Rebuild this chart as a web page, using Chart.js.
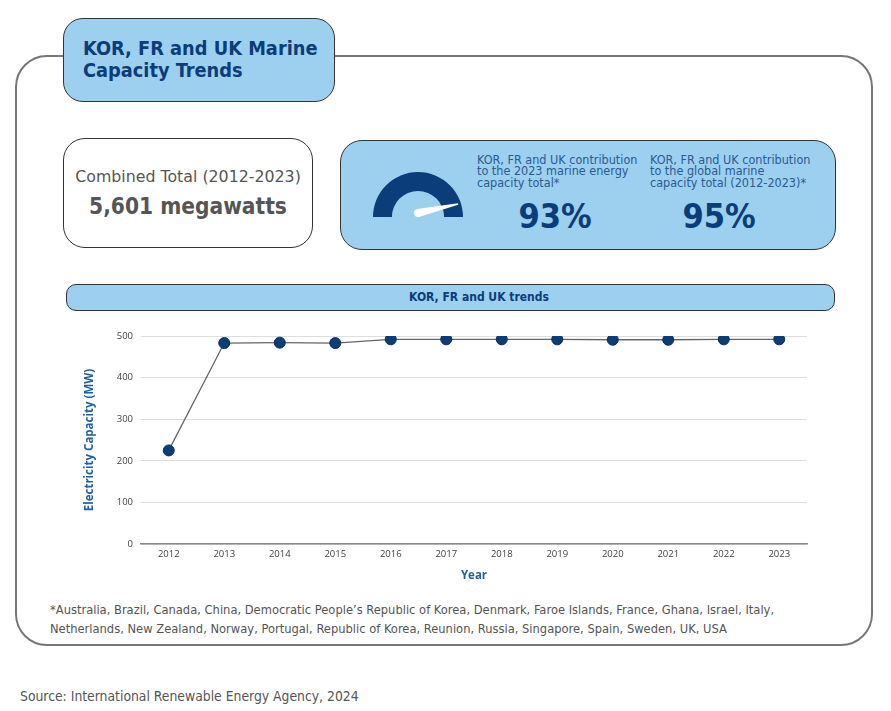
<!DOCTYPE html>
<html>
<head>
<meta charset="utf-8">
<script src="https://cdn.jsdelivr.net/npm/chart.js@4.4.1/dist/chart.umd.min.js"></script>
<style>
  html, body { margin: 0; padding: 0; background: #fff; }
  body { width: 891px; height: 711px; position: relative; overflow: hidden; font-family: "DejaVu Sans Condensed", "DejaVu Sans", sans-serif; }
  .abs { position: absolute; box-sizing: border-box; }
  #outer { left: 15px; top: 55px; width: 858px; height: 591px; border: 2px solid #777; border-radius: 32px; }
  #titleBox { left: 63px; top: 18px; width: 272px; height: 84px; background: #9dcfee; border: 1.5px solid #333; border-radius: 20px; }
  #titleText { left: 83px; top: 38px; font-weight: bold; font-size: 19.8px; line-height: 22px; color: #0b3d7a; white-space: nowrap; }
  #totalBox { left: 63px; top: 138px; width: 250px; height: 110px; background: #fff; border: 1.5px solid #333; border-radius: 22px; }
  #totalLbl { left: 63px; width: 250px; top: 167px; text-align: center; font-family: "DejaVu Sans", sans-serif; font-size: 15.8px; color: #555; white-space: nowrap; }
  #totalVal { left: 63px; width: 250px; top: 193px; text-align: center; font-family: "DejaVu Sans Condensed", "DejaVu Sans", sans-serif; font-size: 22.5px; font-weight: bold; color: #555; white-space: nowrap; }
  #kpiBox { left: 340px; top: 140px; width: 496px; height: 110px; background: #9dcfee; border: 1.5px solid #333; border-radius: 22px; }
  .kpiTxt { font-size: 12.5px; line-height: 11.3px; color: #2a5b92; white-space: nowrap; }
  .kpiNum { font-size: 34px; font-weight: bold; color: #0b3d7a; text-align: center; white-space: nowrap; }
  #banner { left: 66px; top: 284px; width: 769px; height: 27px; background: #9dcfee; border: 1.5px solid #333; border-radius: 10px; }
  #bannerTxt { left: 379px; width: 200px; top: 290px; text-align: center; font-size: 12px; font-weight: bold; color: #0b3d7a; white-space: nowrap; }
  #note { left: 50px; top: 600px; font-size: 12.8px; line-height: 19px; color: #555; white-space: nowrap; }
  #source { left: 20px; top: 688px; font-size: 13.8px; color: #555; white-space: nowrap; }
  #chartWrap { left: 70px; top: 322px; width: 750px; height: 270px; }
  #gaugeWrap { left: 372.5px; top: 172px; width: 90px; height: 45px; }
</style>
</head>
<body>
<div id="outer" class="abs"></div>
<div id="titleBox" class="abs"></div>
<div id="titleText" class="abs">KOR, FR and UK Marine<br>Capacity Trends</div>

<div id="totalBox" class="abs"></div>
<div id="totalLbl" class="abs">Combined Total (2012-2023)</div>
<div id="totalVal" class="abs">5,601 megawatts</div>

<div id="kpiBox" class="abs"></div>
<div id="gaugeWrap" class="abs"><canvas id="gauge"></canvas></div>
<div class="abs kpiTxt" style="left:477px; top:154px;">KOR, FR and UK contribution<br>to the 2023 marine energy<br>capacity total*</div>
<div class="abs kpiNum" style="left:505px; width:100px; top:196px;">93%</div>
<div class="abs kpiTxt" style="left:650px; top:154px;">KOR, FR and UK contribution<br>to the global marine<br>capacity total (2012-2023)*</div>
<div class="abs kpiNum" style="left:669px; width:100px; top:196px;">95%</div>

<div id="banner" class="abs"></div>
<div id="bannerTxt" class="abs">KOR, FR and UK trends</div>

<div id="chartWrap" class="abs"><canvas id="chart"></canvas></div>

<div id="note" class="abs">*Australia, Brazil, Canada, China, Democratic People’s Republic of Korea, Denmark, Faroe Islands, France, Ghana, Israel, Italy,<br>Netherlands, New Zealand, Norway, Portugal, Republic of Korea, Reunion, Russia, Singapore, Spain, Sweden, UK, USA</div>
<div id="source" class="abs">Source: International Renewable Energy Agency, 2024</div>

<script>
// ---- data ----
const years = ["2012","2013","2014","2015","2016","2017","2018","2019","2020","2021","2022","2023"];
const capacityMW = [225, 483, 484, 483, 492, 492, 492, 492, 491, 491, 492, 492];
const yTicks = [0, 100, 200, 300, 400, 500];
const gaugeValue = [93];
const gaugeMax = 100;

const tickFont = { family: "'Open Sans', sans-serif", size: 9.5 };
const titleFont = { family: "'Open Sans', sans-serif", size: 11.5, weight: "bold" };

new Chart(document.getElementById("chart"), {
  type: "line",
  data: {
    labels: years,
    datasets: [{
      data: capacityMW,
      borderColor: "#666",
      borderWidth: 1.3,
      pointBackgroundColor: "#0b3d78",
      pointBorderColor: "#0a2f5c",
      pointBorderWidth: 1,
      pointRadius: 5.5,
      tension: 0,
      fill: false
    }]
  },
  options: {
    responsive: true,
    maintainAspectRatio: false,
    animation: false,
    layout: { padding: { top: 14, right: 13, left: 0, bottom: 0 } },
    plugins: { legend: { display: false }, tooltip: { enabled: false } },
    scales: {
      x: {
        offset: true,
        grid: { display: false, drawTicks: false },
        border: { display: true, color: "#888", width: 1.5 },
        ticks: { color: "#444", font: tickFont, padding: 5, maxRotation: 0 },
        title: { display: true, text: "Year", color: "#1f5fa0", font: titleFont, padding: { top: 4, bottom: 9 } },
        afterFit: s => { s.height = 48; }
      },
      y: {
        min: 0, max: 500,
        afterBuildTicks: s => { s.ticks = yTicks.map(v => ({ value: v })); },
        grid: { color: "#ddd", lineWidth: 1, drawTicks: false },
        border: { display: false },
        ticks: { color: "#444", font: tickFont, padding: 8 },
        title: { display: true, text: "Electricity Capacity (MW)", color: "#1f5fa0", font: titleFont, padding: { top: 13, bottom: 4 } },
        afterFit: s => { s.width = 71; }
      }
    }
  }
});

const needlePlugin = {
  id: "needle",
  afterDatasetsDraw(chart) {
    const arc = chart.getDatasetMeta(0).data[0];
    if (!arc) return;
    const { x, y, outerRadius } = arc.getProps(["x", "y", "outerRadius"], true);
    const frac = gaugeValue[0] / gaugeMax;
    const ang = Math.PI + frac * Math.PI;
    const ctx = chart.ctx;
    const bx = x, by = y - 4;
    const len = outerRadius - 4;
    const tx = bx + Math.cos(ang) * len, ty = by + Math.sin(ang) * len;
    const px = Math.cos(ang + Math.PI / 2), py = Math.sin(ang + Math.PI / 2);
    ctx.save();
    ctx.fillStyle = "#fff";
    ctx.beginPath();
    ctx.moveTo(bx + px * 4, by + py * 4);
    ctx.lineTo(tx + px * 0.8, ty + py * 0.8);
    ctx.lineTo(tx - px * 0.8, ty - py * 0.8);
    ctx.lineTo(bx - px * 4, by - py * 4);
    ctx.closePath();
    ctx.fill();
    ctx.beginPath();
    ctx.arc(bx, by, 4, 0, Math.PI * 2);
    ctx.fill();
    ctx.restore();
  }
};

new Chart(document.getElementById("gauge"), {
  type: "doughnut",
  data: { labels: ["share"], datasets: [{ data: [gaugeMax], backgroundColor: ["#0b3d7a"], borderWidth: 0 }] },
  options: {
    responsive: true,
    maintainAspectRatio: false,
    animation: false,
    rotation: -90,
    circumference: 180,
    cutout: "58%",
    layout: { padding: 0 },
    plugins: { legend: { display: false }, tooltip: { enabled: false } }
  },
  plugins: [needlePlugin]
});
</script>
</body>
</html>
